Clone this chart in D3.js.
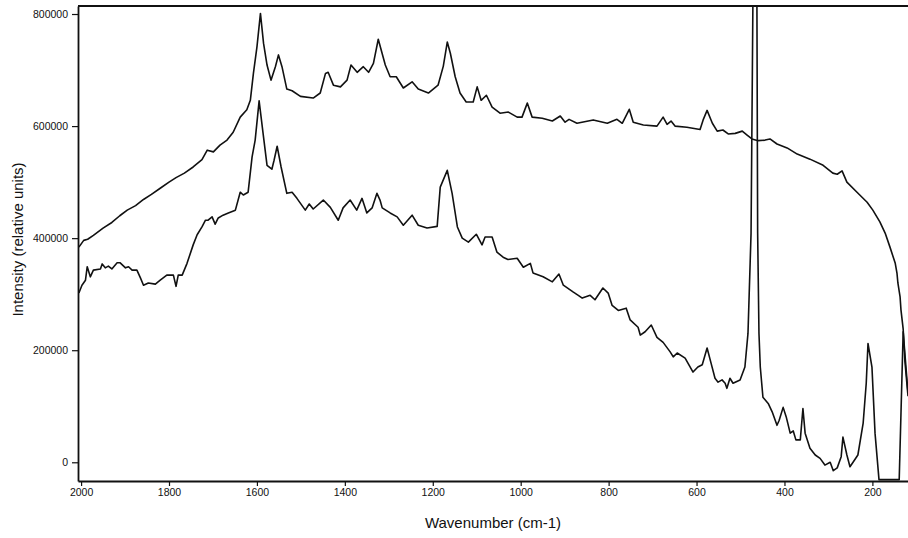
<!DOCTYPE html>
<html>
<head>
<meta charset="utf-8">
<script src="https://cdn.jsdelivr.net/npm/d3@7"></script>
<style>
  html, body { margin: 0; padding: 0; background: #fff; }
  svg { display: block; font-family: "Liberation Sans", Arial, Helvetica, sans-serif; }
</style>
</head>
<body>
<svg id="chart" width="908" height="538"></svg>
<script>
// upper spectrum (wavenumber cm-1, intensity)
const upperWn = [2005, 1994, 1985, 1972, 1950, 1930, 1912, 1895, 1876, 1858, 1840, 1820, 1800, 1784, 1765, 1745, 1725, 1713, 1699, 1684, 1668, 1654, 1638, 1623, 1615, 1608, 1600, 1592, 1585, 1577, 1568, 1558, 1551, 1543, 1532, 1520, 1501, 1472, 1456, 1444, 1438, 1426, 1410, 1395, 1386, 1372, 1358, 1346, 1335, 1324, 1308, 1297, 1283, 1267, 1247, 1233, 1210, 1188, 1176, 1167, 1160, 1149, 1138, 1124, 1108, 1099, 1090, 1078, 1065, 1047, 1028, 1008, 997, 985, 974, 951, 928, 910, 899, 890, 872, 835, 803, 781, 769, 753, 744, 721, 690, 676, 667, 658, 649, 622, 592, 585, 576, 564, 553, 540, 528, 512, 496, 485, 474, 460, 444, 433, 417, 394, 371, 342, 312, 290, 280, 269, 258, 235, 212, 199, 183, 171, 160, 148, 144, 142, 137, 135, 130, 126, 119];
const upperInt = [384000, 396000, 398000, 405000, 418000, 428000, 440000, 450000, 458000, 469000, 478000, 489000, 500000, 508000, 516000, 527000, 540000, 557000, 554000, 566000, 575000, 589000, 616000, 629000, 646000, 694000, 741000, 801000, 748000, 709000, 682000, 706000, 727000, 706000, 666000, 663000, 653000, 650000, 659000, 694000, 696000, 673000, 670000, 682000, 709000, 696000, 706000, 696000, 712000, 755000, 709000, 688000, 688000, 668000, 679000, 666000, 659000, 673000, 707000, 750000, 730000, 688000, 659000, 643000, 643000, 670000, 646000, 655000, 634000, 623000, 625000, 616000, 616000, 641000, 616000, 614000, 609000, 618000, 607000, 612000, 605000, 611000, 605000, 612000, 605000, 630000, 607000, 602000, 600000, 616000, 603000, 609000, 600000, 598000, 594000, 611000, 628000, 605000, 591000, 593000, 586000, 587000, 591000, 584000, 577000, 574000, 575000, 577000, 568000, 561000, 550000, 541000, 530000, 516000, 514000, 520000, 500000, 482000, 464000, 450000, 429000, 409000, 384000, 355000, 337000, 320000, 295000, 272000, 238000, 180000, 118000];

// lower spectrum
const lowerWn = [2005, 1998, 1990, 1986, 1979, 1972, 1956, 1952, 1945, 1938, 1930, 1918, 1911, 1899, 1892, 1884, 1873, 1865, 1858, 1847, 1831, 1820, 1805, 1790, 1784, 1779, 1770, 1759, 1745, 1736, 1725, 1717, 1711, 1702, 1695, 1688, 1677, 1665, 1649, 1638, 1631, 1620, 1611, 1604, 1595, 1586, 1577, 1566, 1561, 1554, 1545, 1532, 1520, 1509, 1490, 1481, 1472, 1449, 1433, 1415, 1404, 1388, 1373, 1361, 1350, 1338, 1327, 1320, 1315, 1297, 1281, 1267, 1247, 1233, 1213, 1190, 1183, 1167, 1156, 1144, 1133, 1119, 1101, 1088, 1081, 1065, 1054, 1040, 1029, 1008, 994, 978, 972, 949, 928, 913, 903, 881, 869, 860, 842, 831, 813, 801, 792, 778, 760, 751, 733, 728, 717, 703, 690, 676, 660, 653, 644, 626, 608, 597, 587, 576, 567, 558, 551, 542, 535, 531, 524, 517, 501, 490, 483, 476, 473, 471, 467, 463, 461, 458, 455, 449, 437, 428, 417, 412, 403, 396, 387, 380, 374, 364, 358, 353, 342, 330, 319, 308, 296, 289, 280, 271, 267, 258, 251, 244, 233, 221, 214, 210, 201, 194, 185, 139, 130, 119];
const lowerInt = [302000, 316000, 325000, 349000, 331000, 343000, 345000, 354000, 347000, 350000, 345000, 356000, 356000, 347000, 349000, 343000, 343000, 329000, 316000, 320000, 318000, 325000, 334000, 334000, 314000, 334000, 334000, 355000, 388000, 406000, 420000, 432000, 432000, 438000, 425000, 436000, 441000, 445000, 450000, 482000, 477000, 482000, 545000, 575000, 645000, 587000, 530000, 523000, 539000, 564000, 527000, 480000, 482000, 471000, 450000, 461000, 452000, 468000, 455000, 432000, 454000, 468000, 450000, 471000, 445000, 454000, 480000, 468000, 454000, 445000, 438000, 423000, 441000, 423000, 418000, 421000, 491000, 521000, 480000, 420000, 400000, 393000, 407000, 388000, 402000, 402000, 375000, 366000, 362000, 364000, 348000, 355000, 338000, 331000, 322000, 336000, 316000, 304000, 298000, 293000, 298000, 290000, 311000, 302000, 280000, 271000, 275000, 254000, 241000, 227000, 233000, 245000, 223000, 214000, 197000, 188000, 195000, 186000, 161000, 170000, 174000, 204000, 177000, 150000, 143000, 147000, 141000, 132000, 150000, 141000, 147000, 170000, 230000, 409000, 700000, 900000, 1100000, 900000, 409000, 230000, 170000, 116000, 105000, 90000, 66000, 75000, 98000, 81000, 52000, 56000, 40000, 40000, 96000, 52000, 25000, 13000, 7000, -5000, 0, -15000, -10000, 10000, 45000, 13000, -8000, 0, 13000, 70000, 141000, 212000, 170000, 52000, -31000, -31000, 233000, 124000];

const xTicks = [2000, 1800, 1600, 1400, 1200, 1000, 800, 600, 400, 200];
const yTicks = [0, 200000, 400000, 600000, 800000];

const svg = d3.select('#chart');
const plot = { left: 78, right: 908, top: 6, bottom: 481 };

const x = d3.scaleLinear().domain([2007, 119]).range([plot.left, plot.right]);
const y = d3.scaleLinear().domain([-33400, 814300]).range([plot.bottom, plot.top]);

svg.append('defs').append('clipPath').attr('id', 'plot-clip')
  .append('rect')
  .attr('x', plot.left).attr('y', plot.top)
  .attr('width', plot.right - plot.left).attr('height', plot.bottom - plot.top);

const line = d3.line()
  .x(d => x(d[0]))
  .y(d => y(d[1]));

const series = [
  d3.zip(upperWn, upperInt),
  d3.zip(lowerWn, lowerInt)
];

svg.append('g')
  .attr('clip-path', 'url(#plot-clip)')
  .selectAll('path')
  .data(series)
  .enter()
  .append('path')
  .attr('d', line)
  .attr('fill', 'none')
  .attr('stroke', '#111')
  .attr('stroke-width', 1.6)
  .attr('stroke-linejoin', 'round');

// axes
const xAxis = svg.append('g')
  .attr('transform', `translate(0,${plot.bottom})`)
  .call(d3.axisBottom(x).tickValues(xTicks).tickSize(5).tickSizeOuter(0).tickPadding(3).tickFormat(d3.format('d')));

const yAxis = svg.append('g')
  .attr('transform', `translate(${plot.left},0)`)
  .call(d3.axisLeft(y).tickValues(yTicks).tickSize(6).tickSizeOuter(0).tickPadding(4).tickFormat(d3.format('d')));

[xAxis, yAxis].forEach(g => {
  g.select('.domain').attr('stroke', '#111').attr('stroke-width', 1.8);
  g.selectAll('.tick line').attr('stroke', '#111').attr('stroke-width', 1.2);
  g.selectAll('.tick text')
    .attr('fill', '#111')
    .style('font-size', '10.5px')
    .style('font-family', '"Liberation Sans", Arial, sans-serif');
});

// top border
svg.append('line')
  .attr('x1', plot.left).attr('x2', plot.right)
  .attr('y1', plot.top).attr('y2', plot.top)
  .attr('stroke', '#111').attr('stroke-width', 1.8);

svg.append('text')
  .attr('x', (plot.left + plot.right) / 2)
  .attr('y', 528)
  .attr('text-anchor', 'middle')
  .attr('fill', '#111')
  .style('font-size', '15px')
  .text('Wavenumber (cm-1)');

svg.append('text')
  .attr('transform', `translate(23,${(plot.top + plot.bottom) / 2 - 4}) rotate(-90)`)
  .attr('text-anchor', 'middle')
  .attr('fill', '#111')
  .style('font-size', '15px')
  .text('Intensity (relative units)');
</script>
</body>
</html>
